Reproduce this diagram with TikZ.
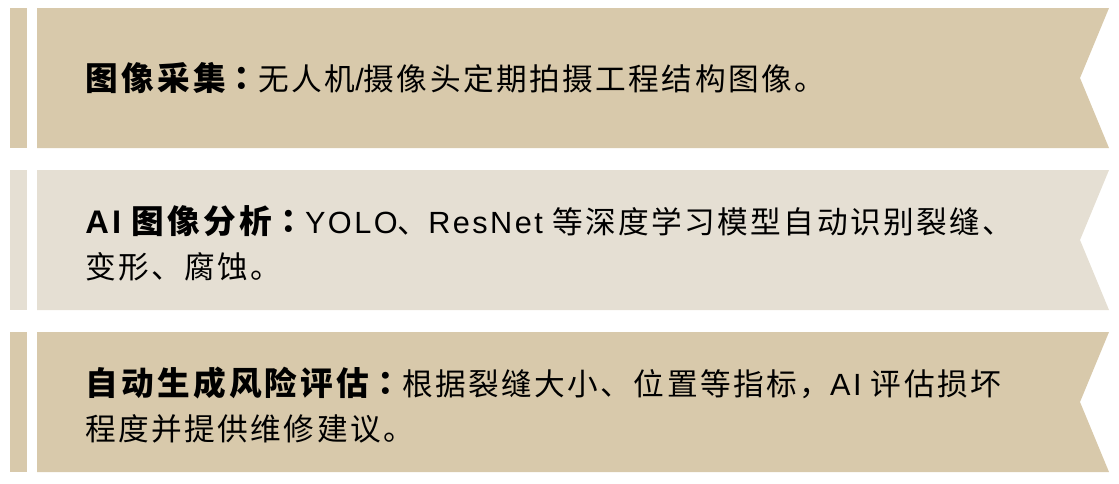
\documentclass[tikz,border=0pt]{standalone}
\usepackage{fontspec}
\setmainfont{Liberation Sans}
\newfontfamily\cjk[LetterSpace=8,BoldFeatures={LetterSpace=10}]{Noto Sans CJK SC}
\newfontfamily\cjkmid[LetterSpace=8,BoldFeatures={LetterSpace=10}]{Noto Sans CJK TC}
\newfontfamily\latin[LetterSpace=8,BoldFeatures={LetterSpace=10}]{Liberation Sans}
\newcommand{\colonmark}{{\cjkmid ：}}
\newcommand{\steptitle}[1]{{\bfseries\fontsize{24.5pt}{33.6pt}\selectfont #1\colonmark}}
\definecolor{sand}{HTML}{D8C9AB}
\definecolor{pale}{HTML}{E5DFD3}

\begin{document}
\begin{tikzpicture}[x=0.75pt,y=-0.75pt,
	itemtext/.style={anchor=west, align=left, inner sep=0pt,
		font=\cjk\fontsize{23pt}{33.6pt}\selectfont}]
		\useasboundingbox (0,0) rectangle (1119,483);
		% ribbons with notched ends
		\foreach \t/\col in {8/sand,170/pale,332/sand}
		{
			\fill[\col] (10,\t) rectangle (27,\t+140);
			\fill[\col] (37,\t) -- (1109,\t) -- (1080,\t+70) -- (1109,\t+140) -- (37,\t+140) -- cycle;
		}
		% step texts
		\node[itemtext] (capture) at (85,78)
			{\steptitle{图像采集}无人机{\latin /}摄像头定期拍摄工程结构图像。};
		\node[itemtext] (analysis) at (85,243)
			{\steptitle{{\latin AI} 图像分析}{\latin YOLO}、{\latin ResNet} 等深度学习模型自动识别裂缝、\\变形、腐蚀。};
		\node[itemtext] (risk) at (85,405)
			{\steptitle{自动生成风险评估}根据裂缝大小、位置等指标，{\latin AI} 评估损坏\\程度并提供维修建议。};
	\end{tikzpicture}
\end{document}
